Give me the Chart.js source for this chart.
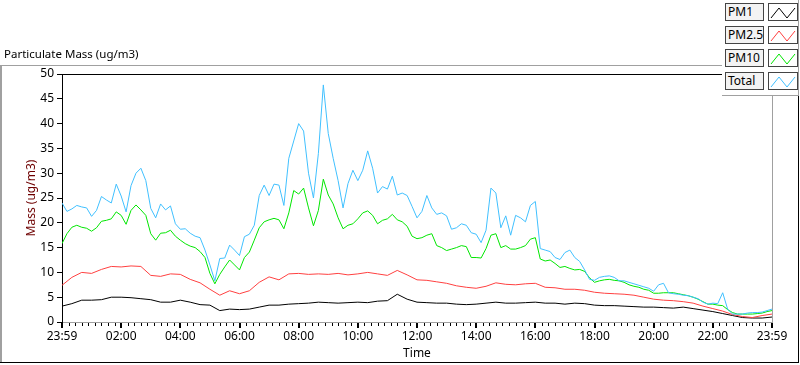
<!DOCTYPE html>
<html>
<head>
<meta charset="utf-8">
<script src="https://cdn.jsdelivr.net/npm/chart.js@4.4.0/dist/chart.umd.min.js"></script>
<style>
  html, body { margin: 0; padding: 0; background: #fff; }
  #wrap { position: relative; width: 800px; height: 365px; overflow: hidden; font-family: 'Noto Sans', sans-serif; }
  #chartCanvas { position: absolute; left: 0; top: 0; }
  #title { position: absolute; left: 4px; top: 46px; font-size: 11.5px; color: #000; white-space: nowrap; }
  .line { position: absolute; }
  #legend { position: absolute; left: 722px; top: 0; width: 76px; height: 95px; background: #fff;
            border-right: 1px solid #a0a0a0; border-bottom: 1px solid #a0a0a0; z-index: 2; }
  .item { position: absolute; left: 3px; width: 73px; height: 18px; }
  .lab { position: absolute; left: 0; top: 0; width: 35px; height: 16px; border: 1px solid #444;
         background: #f3f3f3; font-size: 12px; line-height: 16px; padding-left: 2px; color: #000; }
  .sw { position: absolute; left: 43px; top: 0; width: 28px; height: 16px; border: 1px solid #444; background: #fff; }
</style>
</head>
<body>
<div id="wrap">
  <canvas id="chartCanvas" width="800" height="365"></canvas>
  <div id="title">Particulate Mass (ug/m3)</div>
  <div class="line" style="left:0;top:65px;width:722px;height:1px;background:#a0a0a0"></div>
  <div class="line" style="left:0;top:65px;width:2px;height:298px;background:#a0a0a0"></div>
  <div class="line" style="left:0;top:362px;width:799px;height:1px;background:#000"></div>
  <div class="line" style="left:798px;top:95px;width:1px;height:268px;background:#000"></div>
  <div id="legend"></div>
</div>
<script>
// Series names / colours
const seriesNames = ['PM1', 'PM2.5', 'PM10', 'Total'];
const seriesColors = ['#000000', '#ff4040', '#00e600', '#40c0ff'];

// x tick labels, one every 2 hours (minutes from start of day)
const hourLabels = ['23:59', '02:00', '04:00', '06:00', '08:00', '10:00', '12:00',
                    '14:00', '16:00', '18:00', '20:00', '22:00', '23:59'];

// Total and PM10, one reading every 10 minutes
const totalMass = [
  24.0, 22.3, 22.8, 23.5, 23.2, 23.0, 21.3, 22.5, 25.3, 24.6,
  24.0, 27.8, 25.4, 22.2, 27.5, 30.0, 31.0, 28.5, 22.9, 21.0,
  23.8, 22.6, 23.4, 19.8, 18.7, 18.8, 17.9, 17.3, 17.0, 14.5,
  11.5, 8.3, 12.8, 12.9, 15.5, 14.5, 13.4, 17.2, 17.7, 19.5,
  25.5, 27.6, 25.5, 27.8, 27.6, 23.5, 33.0, 36.5, 40.0, 38.5,
  30.0, 25.0, 34.0, 47.8, 38.0, 33.0, 28.5, 23.0, 27.9, 30.6,
  28.5, 30.6, 34.5, 31.0, 26.0, 27.3, 26.8, 29.4, 25.6, 26.0,
  25.5, 23.3, 21.0, 22.3, 25.5, 23.0, 21.7, 22.0, 21.4, 18.7,
  19.0, 19.8, 19.5, 18.0, 17.7, 16.0, 18.5, 27.0, 26.0, 19.0,
  21.4, 17.5, 21.5, 21.0, 20.2, 23.5, 24.3, 14.8, 14.5, 14.2,
  13.0, 12.6, 14.0, 14.5, 13.0, 12.2, 10.5, 8.6, 8.4, 9.0,
  9.2, 9.3, 9.0, 8.3, 8.3, 8.0, 7.7, 7.4, 7.1, 6.8,
  6.2, 7.5, 7.8, 5.9, 5.7, 5.6, 5.4, 5.3, 5.0, 4.7,
  4.0, 3.6, 3.8, 3.7, 5.9, 2.6, 1.6, 1.6, 1.6, 1.8,
  1.9, 1.9, 2.0, 2.3, 2.6
];
const pm10 = [
  15.8, 17.8, 19.1, 19.5, 19.1, 18.9, 18.3, 19.0, 20.3, 20.5,
  20.8, 22.2, 21.5, 19.7, 22.5, 23.6, 22.6, 21.5, 17.8, 16.5,
  17.9, 18.0, 18.5, 17.3, 16.5, 15.8, 15.3, 15.0, 14.2, 13.0,
  9.8, 7.7, 9.6, 11.1, 12.5, 11.5, 10.5, 13.0, 14.1, 16.5,
  19.0, 20.2, 20.6, 20.9, 20.6, 18.8, 22.0, 26.5, 25.8, 27.0,
  23.0, 19.4, 22.5, 28.8, 25.6, 23.8, 21.0, 18.8, 19.5, 19.8,
  20.8, 22.0, 22.4, 21.5, 19.8, 20.5, 20.8, 21.7, 20.6, 20.2,
  19.3, 17.3, 16.8, 17.0, 17.5, 17.8, 15.4, 15.0, 14.4, 14.7,
  15.0, 15.4, 15.2, 13.0, 13.0, 12.9, 14.8, 17.5, 17.8, 15.0,
  15.4, 14.7, 14.7, 15.0, 15.4, 16.7, 17.0, 12.7, 12.3, 12.5,
  11.8, 11.0, 11.2, 10.8, 10.5, 10.6, 10.2, 8.9, 8.0, 8.3,
  8.5, 8.6, 8.4, 8.3, 8.0, 7.5, 7.2, 7.0, 6.6, 6.4,
  5.8, 5.8, 5.9, 5.9, 5.9, 5.7, 5.5, 5.3, 5.0, 4.6,
  4.1, 3.6, 3.6, 3.4, 3.3, 2.5, 1.9, 1.6, 1.6, 1.6,
  1.6, 1.7, 1.8, 2.1, 2.3
];

// PM2.5 and PM1, one reading every 20 minutes
const pm25 = [
  7.4, 9.0, 10.0, 9.8, 10.6, 11.2, 11.1, 11.3, 11.2, 9.4,
  9.2, 9.7, 9.6, 8.6, 7.9, 6.6, 5.4, 6.3, 5.7, 6.3,
  8.0, 9.1, 8.5, 9.7, 9.8, 9.6, 9.7, 9.6, 9.8, 9.5,
  9.7, 10.0, 9.7, 9.4, 10.4, 9.5, 8.5, 8.4, 8.1, 7.8,
  7.3, 7.0, 6.8, 7.2, 7.9, 7.6, 7.5, 7.7, 7.8, 7.0,
  6.9, 6.6, 6.6, 6.4, 6.0, 5.8, 5.7, 5.6, 5.4, 5.0,
  4.6, 4.4, 4.3, 4.1, 3.8, 3.2, 2.7, 2.2, 1.5, 1.1,
  0.9, 1.3, 1.6
];
const pm1 = [
  3.2, 3.7, 4.4, 4.4, 4.5, 5.0, 5.0, 4.9, 4.7, 4.5,
  4.0, 4.0, 4.4, 4.0, 3.5, 3.4, 2.3, 2.6, 2.5, 2.6,
  3.0, 3.4, 3.4, 3.6, 3.7, 3.8, 4.0, 3.9, 3.8, 3.9,
  4.0, 3.9, 4.2, 4.3, 5.6, 4.6, 4.0, 3.9, 3.8, 3.8,
  3.6, 3.5, 3.6, 3.8, 4.0, 3.8, 3.8, 3.9, 4.0, 3.8,
  3.8, 3.6, 3.8, 3.7, 3.4, 3.3, 3.3, 3.2, 3.1, 3.0,
  3.0, 2.9, 2.8, 3.0, 2.7, 2.4, 2.1, 1.7, 1.3, 0.9,
  0.8, 0.8, 1.0
];

const fineMinutes = totalMass.map((_, i) => i * 10);
const coarseMinutes = pm1.map((_, i) => i * 20);
const MINOR_PER_MAJOR = 9;

function toPoints(times, values) {
  return values.map((v, i) => ({ x: times[i], y: v }));
}

// ticks below the x axis + top/right border of the plot
const plotFrame = {
  id: 'plotFrame',
  afterDraw(chart) {
    const ctx = chart.ctx;
    const area = chart.chartArea;
    const xs = chart.scales.x;
    ctx.save();
    ctx.strokeStyle = '#000';
    xs.ticks.forEach((t, i) => {
      const major = i % MINOR_PER_MAJOR === 0;
      const px = Math.round(xs.getPixelForValue(t.value));
      ctx.lineWidth = major ? 2 : 1;
      ctx.beginPath();
      ctx.moveTo(major ? px : px + 0.5, area.bottom + 1);
      ctx.lineTo(major ? px : px + 0.5, area.bottom + (major ? 6 : 4));
      ctx.stroke();
    });
    ctx.lineWidth = 1;
    ctx.strokeStyle = '#000';
    ctx.beginPath();
    ctx.moveTo(area.left, Math.round(area.top) + 0.5);
    ctx.lineTo(area.right, Math.round(area.top) + 0.5);
    ctx.stroke();
    ctx.strokeStyle = '#a0a0a0';
    ctx.beginPath();
    ctx.moveTo(Math.round(area.right) + 0.5, area.top);
    ctx.lineTo(Math.round(area.right) + 0.5, area.bottom);
    ctx.stroke();
    ctx.restore();
  }
};

const seriesData = [
  toPoints(coarseMinutes, pm1),
  toPoints(coarseMinutes, pm25),
  toPoints(fineMinutes, pm10),
  toPoints(fineMinutes, totalMass)
];

const chart = new Chart(document.getElementById('chartCanvas').getContext('2d'), {
  type: 'line',
  data: {
    datasets: seriesNames.map((name, i) => ({
      label: name,
      data: seriesData[i],
      borderColor: seriesColors[i],
      borderWidth: 1,
      pointRadius: 0,
      tension: 0,
      fill: false,
      order: seriesNames.length - i
    }))
  },
  options: {
    responsive: false,
    animation: false,
    events: [],
    layout: { padding: { top: 74, right: 28, bottom: 0, left: 0 } },
    plugins: { legend: { display: false }, tooltip: { enabled: false } },
    font: { family: "'Noto Sans', sans-serif", size: 12 },
    scales: {
      x: {
        type: 'linear',
        min: 0,
        max: 1440,
        afterBuildTicks(scale) {
          const step = 120 / MINOR_PER_MAJOR;
          const ticks = [];
          for (let k = 0; k <= 12 * MINOR_PER_MAJOR; k++) ticks.push({ value: k * step });
          scale.ticks = ticks;
        },
        afterFit(scale) { scale.height = 43; },
        grid: { drawOnChartArea: false, drawTicks: false },
        border: { display: true, color: '#a0a0a0', width: 1 },
        ticks: {
          autoSkip: false,
          maxRotation: 0,
          padding: 7,
          color: '#000',
          font: { family: "'Noto Sans', sans-serif", size: 12 },
          callback: (v, i) => (i % MINOR_PER_MAJOR === 0 ? hourLabels[i / MINOR_PER_MAJOR] : '')
        },
        title: {
          display: true,
          text: 'Time',
          color: '#000',
          font: { family: "'Noto Sans', sans-serif", size: 12 },
          padding: { top: 0, bottom: 4 }
        }
      },
      y: {
        min: 0,
        max: 50,
        afterFit(scale) { scale.width = 62; },
        grid: { drawOnChartArea: false, drawTicks: true, tickLength: 5, tickColor: '#000' },
        border: { display: true, color: '#000', width: 1 },
        ticks: {
          stepSize: 5,
          padding: 3,
          color: '#000',
          font: { family: "'Noto Sans', sans-serif", size: 12 }
        },
        title: {
          display: true,
          text: 'Mass (ug/m3)',
          color: '#6e0000',
          font: { family: "'Noto Sans', sans-serif", size: 12 },
          padding: { top: 24, bottom: 0 }
        }
      }
    }
  },
  plugins: [plotFrame]
});

// legend boxes built from the datasets
const legend = document.getElementById('legend');
chart.data.datasets.forEach((ds, i) => {
  const item = document.createElement('div');
  item.className = 'item';
  item.style.top = (3 + i * 23) + 'px';
  item.innerHTML = '<div class="lab">' + ds.label + '</div>' +
    '<div class="sw"><svg width="28" height="16"><polyline points="2,13 10,3 18,13 26,3" fill="none" stroke="' +
    ds.borderColor + '" stroke-width="1"/></svg></div>';
  legend.appendChild(item);
});
</script>
</body>
</html>
